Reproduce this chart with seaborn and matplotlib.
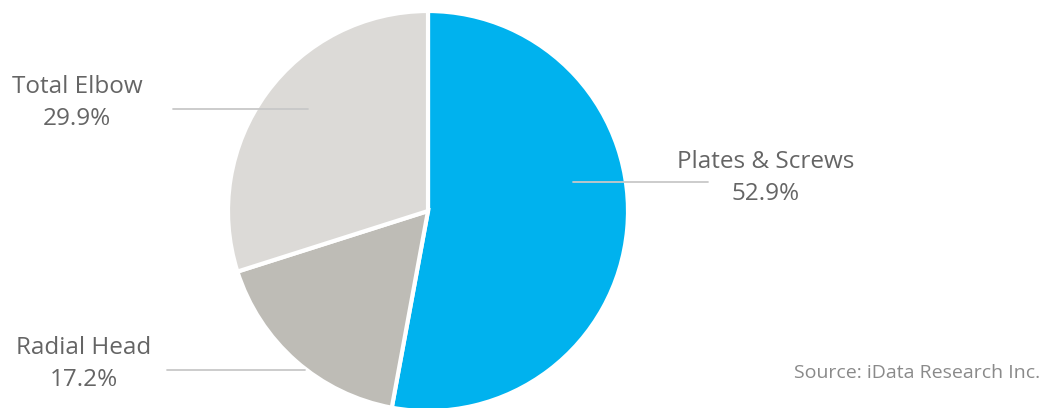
import matplotlib
matplotlib.use("Agg")
import matplotlib.pyplot as plt
import seaborn as sns

categories = ["Plates & Screws", "Radial Head", "Total Elbow"]
values = [52.9, 17.2, 29.9]
colors = ["#00B2EE", "#BEBCB6", "#DCDAD7"]
source = "Source: iData Research Inc."

sns.set_theme(style="white")
plt.rcParams['font.family'] = ['Open Sans', 'DejaVu Sans']

W, H = 1043, 408
fig = plt.figure(figsize=(W / 100, H / 100), dpi=100)
ax = fig.add_axes([0, 0, 1, 1])

cx, cy, r = 428, H - 211, 200
ax.pie(values, colors=colors, startangle=90, counterclock=False,
       radius=r, center=(cx, cy), frame=True,
       wedgeprops=dict(edgecolor="white", linewidth=3))
ax.set_xlim(0, W)
ax.set_ylim(0, H)
ax.set_aspect("equal")
ax.axis("off")

# leader lines (pixel coords from top)
lines = {
    "Plates & Screws": ((573, 708), 182),
    "Radial Head": ((167, 305), 370),
    "Total Elbow": ((173, 308), 109),
}
text_pos = {
    "Plates & Screws": (766, 162),
    "Radial Head": (84, 348),
    "Total Elbow": (77, 87),
}
tcol = "#656565"
for cat, val in zip(categories, values):
    (x0, x1), y = lines[cat]
    ax.plot([x0, x1], [H - y, H - y], color="#c8c8c8", lw=1.3, zorder=5)
    tx, ty = text_pos[cat]
    ax.text(tx, H - ty, cat, ha="center", va="center", fontsize=17.5, color=tcol)
    ax.text(tx, H - ty - 32, f"{val}%", ha="center", va="center", fontsize=17.5, color=tcol)

ax.text(1040, H - 373, source, ha="right", va="center", fontsize=14, color="#8a8a8a")

fig.savefig("out.png", dpi=100)
